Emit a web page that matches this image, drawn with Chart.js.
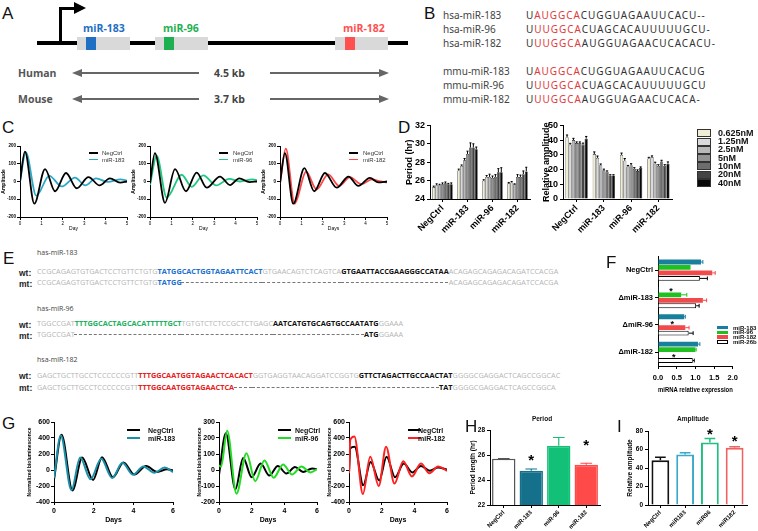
<!DOCTYPE html>
<html>
<head>
<meta charset="utf-8">
<title>miR-183/96/182 cluster</title>
<script src="https://cdn.jsdelivr.net/npm/chart.js@4.4.1/dist/chart.umd.min.js"></script>
<style>
  body { margin: 0; width: 758px; height: 531px; position: relative; overflow: hidden; background: #fff; font-family: 'Liberation Sans', Arial, sans-serif; color: #111; }
  canvas, .t, .r { position: absolute; }
  .t { white-space: nowrap; line-height: 1; transform: translateY(-50%); }
  .L { font-size: 17px; }
  .gene { font: bold 10.5px 'Open Sans', sans-serif; }
  .sp { font: bold 10.5px 'Open Sans', sans-serif; color: #555; }
  .bn { font: 10px 'Noto Sans', sans-serif; color: #444; }
  .bs { font: 10px 'Noto Sans', sans-serif; color: #333; letter-spacing: .95px; }
  .red { color: #e03a3a; }
  .eh { font: 7px 'Open Sans', sans-serif; color: #444; }
  .seq { font: 7.3px 'Open Sans', sans-serif; color: #b5b5b5; }
  .seq b { font-weight: 700; }
  .bl { color: #2070d0; } .gr { color: #1db060; } .rd { color: #e82020; } .bk { color: #111; }
  .del { color: transparent; text-decoration: line-through dashed #777 1px; }
  .wm { font: bold 8.5px 'Liberation Sans', Arial, sans-serif; color: #222; }
  .lg { font: 6px 'Liberation Sans', Arial, sans-serif; color: #333; }
  .lgG { font: bold 7px 'Liberation Sans', Arial, sans-serif; }
  .lgD { font: bold 9px 'Liberation Sans', Arial, sans-serif; }
  .lgF { font: bold 6px 'Liberation Sans', Arial, sans-serif; }
  .ttl { font: bold 6.5px 'Liberation Sans', Arial, sans-serif; transform: translate(-50%, -50%); }
</style>
</head>
<body>
<!-- A: gene locus -->
<div class="t L" style="left:2px;top:13px">A</div>
<div class="r" style="left:37px;top:41px;width:371px;height:4px;background:#000"></div>
<div class="r" style="left:59px;top:8px;width:3px;height:35px;background:#000"></div>
<div class="r" style="left:59px;top:7px;width:16px;height:3px;background:#000"></div>
<div class="r" style="left:74px;top:2px;width:0;height:0;border-left:12px solid #000;border-top:6.5px solid transparent;border-bottom:6.5px solid transparent"></div>
<div class="r" style="left:77px;top:37px;width:53px;height:13px;background:#d9d9d9"></div>
<div class="r" style="left:86px;top:37px;width:10px;height:13px;background:#1f6fc4"></div>
<div class="r" style="left:155px;top:37px;width:53px;height:13px;background:#d9d9d9"></div>
<div class="r" style="left:164px;top:37px;width:10px;height:13px;background:#1db050"></div>
<div class="r" style="left:335px;top:37px;width:53px;height:13px;background:#d9d9d9"></div>
<div class="r" style="left:345px;top:37px;width:10px;height:13px;background:#ff5050"></div>
<div class="t gene" style="left:83px;top:28px;color:#1f6fc4">miR-183</div>
<div class="t gene" style="left:163px;top:28px;color:#1db050">miR-96</div>
<div class="t gene" style="left:343px;top:28px;color:#ff5050">miR-182</div>
<div class="t sp" style="left:18px;top:73px">Human</div>
<div class="r" style="left:72px;top:68.5px;width:0;height:0;border-right:10px solid #666;border-top:4.5px solid transparent;border-bottom:4.5px solid transparent"></div>
<div class="r" style="left:80px;top:72px;width:119px;height:2px;background:#666"></div>
<div class="t sp" style="left:214px;top:73px;color:#444">4.5 kb</div>
<div class="r" style="left:270px;top:72px;width:110px;height:2px;background:#666"></div>
<div class="r" style="left:379px;top:68.5px;width:0;height:0;border-left:10px solid #666;border-top:4.5px solid transparent;border-bottom:4.5px solid transparent"></div>
<div class="t sp" style="left:18px;top:99px">Mouse</div>
<div class="r" style="left:72px;top:94.5px;width:0;height:0;border-right:10px solid #666;border-top:4.5px solid transparent;border-bottom:4.5px solid transparent"></div>
<div class="r" style="left:80px;top:98px;width:119px;height:2px;background:#666"></div>
<div class="t sp" style="left:214px;top:99px;color:#444">3.7 kb</div>
<div class="r" style="left:270px;top:98px;width:110px;height:2px;background:#666"></div>
<div class="r" style="left:379px;top:94.5px;width:0;height:0;border-left:10px solid #666;border-top:4.5px solid transparent;border-bottom:4.5px solid transparent"></div>

<!-- B: seed alignment -->
<div class="t L" style="left:424px;top:13px">B</div>
<div class="t bn" style="left:443px;top:15px">hsa-miR-183</div>
<div class="t bn" style="left:443px;top:29px">hsa-miR-96</div>
<div class="t bn" style="left:443px;top:43px">hsa-miR-182</div>
<div class="t bn" style="left:443px;top:71px">mmu-miR-183</div>
<div class="t bn" style="left:443px;top:85px">mmu-miR-96</div>
<div class="t bn" style="left:443px;top:99px">mmu-miR-182</div>
<div class="t bs" style="left:526px;top:15px">U<span class="red">AUGGCA</span>CUGGUAGAAUUCACU--</div>
<div class="t bs" style="left:526px;top:29px">U<span class="red">UUGGCA</span>CUAGCACAUUUUUGCU-</div>
<div class="t bs" style="left:526px;top:43px">U<span class="red">UUGGCA</span>AUGGUAGAACUCACACU-</div>
<div class="t bs" style="left:526px;top:71px">U<span class="red">AUGGCA</span>CUGGUAGAAUUCACUG</div>
<div class="t bs" style="left:526px;top:85px">U<span class="red">UUGGCA</span>CUAGCACAUUUUUGCU</div>
<div class="t bs" style="left:526px;top:99px">U<span class="red">UUGGCA</span>AUGGUAGAACUCACA-</div>

<!-- C -->
<div class="t L" style="left:2px;top:127px">C</div>
<canvas id="c1" width="130" height="94" style="left:0;top:140px"></canvas>
<canvas id="c2" width="130" height="94" style="left:130px;top:140px"></canvas>
<canvas id="c3" width="130" height="94" style="left:260px;top:140px"></canvas>
<div class="r" style="left:89px;top:152px;width:9px;height:1.5px;background:#000"></div>
<div class="t lg" style="left:102px;top:153px">NegCtrl</div>
<div class="r" style="left:89px;top:158.5px;width:9px;height:1.5px;background:#2aa8c8"></div>
<div class="t lg" style="left:102px;top:159.5px">miR-183</div>
<div class="r" style="left:219px;top:152px;width:9px;height:1.5px;background:#000"></div>
<div class="t lg" style="left:233px;top:153px">NegCtrl</div>
<div class="r" style="left:219px;top:158.5px;width:9px;height:1.5px;background:#20c880"></div>
<div class="t lg" style="left:233px;top:159.5px">miR-96</div>
<div class="r" style="left:349px;top:152px;width:9px;height:1.5px;background:#000"></div>
<div class="t lg" style="left:363px;top:153px">NegCtrl</div>
<div class="r" style="left:349px;top:158.5px;width:9px;height:1.5px;background:#ff4545"></div>
<div class="t lg" style="left:363px;top:159.5px">miR-182</div>

<!-- D -->
<div class="t L" style="left:398px;top:127px">D</div>
<canvas id="d1" width="135" height="120" style="left:398px;top:118px"></canvas>
<canvas id="d2" width="145" height="120" style="left:530px;top:118px"></canvas>
<div id="dLegend"></div>

<!-- E: deletion sequences -->
<div class="t L" style="left:3px;top:258px">E</div>
<div class="t eh" style="left:37px;top:252px">has-miR-183</div>
<div class="t wm" style="left:19px;top:273px">wt:</div>
<div class="t wm" style="left:19px;top:284px">mt:</div>
<div class="t seq" style="left:37px;top:271px">CCGCAGAGTGTGACTCCTGTTCTGTG<b class="bl">TATGGCACTGGTAGAATTCACT</b>GTGAACAGTCTCAGTCA<b class="bk">GTGAATTACCGAAGGGCCATAA</b>ACAGAGCAGAGACAGATCCACGA</div>
<div class="t seq" style="left:37px;top:282px">CCGCAGAGTGTGACTCCTGTTCTGTG<b class="bl">TATGG</b><span class="del"><b>CACTGGTAGAATTCACT</b>GTGAACAGTCTCAGTCA<b>GTGAATTACCGAAGGGCCATAA</b></span>ACAGAGCAGAGACAGATCCACGA</div>
<div class="t eh" style="left:37px;top:308px">has-miR-96</div>
<div class="t wm" style="left:19px;top:325px">wt:</div>
<div class="t wm" style="left:19px;top:336px">mt:</div>
<div class="t seq" style="left:37px;top:323px">TGGCCGAT<b class="gr">TTTGGCACTAGCACATTTTTGCT</b>TGTGTCTCTCCGCTCTGAGC<b class="bk">AATCATGTGCAGTGCCAATATG</b>GGAAA</div>
<div class="t seq" style="left:37px;top:334px">TGGCCGAT<span class="del"><b>TTTGGCACTAGCACATTTTTGCT</b>TGTGTCTCTCCGCTCTGAGC<b>AATCATGTGCAGTGCCAAT</b></span><b class="bk">ATG</b>GGAAA</div>
<div class="t eh" style="left:37px;top:359px">hsa-miR-182</div>
<div class="t wm" style="left:19px;top:376px">wt:</div>
<div class="t wm" style="left:19px;top:388px">mt:</div>
<div class="t seq" style="left:37px;top:375px">GAGCTGCTTGCCTCCCCCCGTT<b class="rd">TTTGGCAATGGTAGAACTCACACT</b>GGTGAGGTAACAGGATCCGGTG<b class="bk">GTTCTAGACTTGCCAACTAT</b>GGGGCGAGGACTCAGCCGGCAC</div>
<div class="t seq" style="left:37px;top:387px">GAGCTGCTTGCCTCCCCCCGTT<b class="rd">TTTGGCAATGGTAGAACTCA</b><span class="del"><b>CACT</b>GGTGAGGTAACAGGATCCGGTG<b>GTTCTAGACTTGCCAAC</b></span><b class="bk">TAT</b>GGGGCGAGGACTCAGCCGGCA</div>

<!-- F -->
<div class="t L" style="left:606px;top:262px">F</div>
<canvas id="f1" width="146" height="146" style="left:596px;top:250px"></canvas>
<div id="fLegend"></div>

<!-- G -->
<div class="t L" style="left:2px;top:423px">G</div>
<canvas id="g1" width="155" height="110" style="left:22px;top:416px"></canvas>
<canvas id="g2" width="133" height="110" style="left:188px;top:416px"></canvas>
<canvas id="g3" width="133" height="110" style="left:318px;top:416px"></canvas>
<div class="r" style="left:127px;top:429px;width:13px;height:2px;background:#000"></div>
<div class="t lgG" style="left:148px;top:430px">NegCtrl</div>
<div class="r" style="left:127px;top:437px;width:13px;height:2px;background:#1a90a8"></div>
<div class="t lgG" style="left:148px;top:438px">miR-183</div>
<div class="r" style="left:278px;top:429px;width:13px;height:2px;background:#000"></div>
<div class="t lgG" style="left:295px;top:430px">NegCtrl</div>
<div class="r" style="left:278px;top:437px;width:13px;height:2px;background:#22dd22"></div>
<div class="t lgG" style="left:295px;top:438px">miR-96</div>
<div class="r" style="left:408px;top:429px;width:13px;height:2px;background:#000"></div>
<div class="t lgG" style="left:418px;top:430px">NegCtrl</div>
<div class="r" style="left:408px;top:437px;width:13px;height:2px;background:#ff2020"></div>
<div class="t lgG" style="left:418px;top:438px">miR-182</div>

<!-- H / I -->
<div class="t L" style="left:465px;top:426px">H</div>
<div class="t ttl" style="left:542px;top:418px">Period</div>
<canvas id="h1" width="150" height="107" style="left:455px;top:424px"></canvas>
<div class="t L" style="left:617px;top:426px">I</div>
<div class="t ttl" style="left:693px;top:418px">Amplitude</div>
<canvas id="i1" width="132" height="106" style="left:618px;top:425px"></canvas>

<script>
// ---- C: cell rhythms (amplitude vs day), extrema ----
const c1NegX = [0, 0.23, 0.67, 1.17, 1.64, 2.15, 2.65, 3.2, 3.72, 4.2, 4.68, 5];
const c1NegY = [0, 168, -125, 70, -55, 48, -38, 25, -22, 18, -6, 0];
const c1MirX = [0, 0.27, 0.76, 1.37, 1.95, 2.57, 3.05, 3.55, 4.1, 4.7, 5];
const c1MirY = [0, 165, -80, 32, -28, 22, -22, 18, -2, 12, 5];
const c2NegX = [0, 0.23, 0.7, 1.17, 1.68, 2.18, 2.65, 3.27, 3.74, 4.17, 4.65, 5];
const c2NegY = [-10, 160, -120, 70, -55, 50, -35, 28, -20, 18, -3, 0];
const c2MirX = [0, 0.31, 0.78, 1.48, 1.95, 2.49, 3.1, 3.7, 4.2, 4.8, 5];
const c2MirY = [-20, 145, -90, 38, -30, 35, -22, 15, 0, 12, 8];
const c3NegX = [0, 0.23, 0.62, 1.14, 1.6, 2.1, 2.65, 3.2, 3.66, 4.2, 4.6, 5];
const c3NegY = [-10, 160, -125, 75, -55, 48, -35, 28, -25, 20, -5, 0];
const c3MirX = [0, 0.27, 0.68, 1.22, 1.71, 2.25, 2.77, 3.27, 3.8, 4.3, 4.7, 5];
const c3MirY = [-10, 185, -125, 55, -45, 40, -25, 25, -15, 12, 0, -5];

// ---- D: dose series ----
const dGroups = ['NegCtrl', 'miR-183', 'miR-96', 'miR-182'];
const dDoses = ['0.625nM', '1.25nM', '2.5nM', '5nM', '10nM', '20nM', '40nM'];
const dColors = ['#f1edd3', '#dadada', '#b8b8b8', '#939393', '#6d6d6d', '#444444', '#080808'];
const periodNeg = [25.3, 25.5, 25.5, 25.6, 25.7, 25.6, 25.6];
const period183 = [27.1, 27.6, 28.2, 28.9, 29.6, 29.6, 29.4];
const period96 = [26.0, 26.4, 26.4, 26.3, 26.4, 26.9, 26.9];
const period182 = [25.7, 25.8, 25.6, 26.4, 26.4, 26.7, 27.0];
const periodErrNeg = [0.1, 0.15, 0.1, 0.15, 0.15, 0.1, 0.15];
const periodErr183 = [0.15, 0.1, 0.2, 0.3, 0.5, 0.4, 0.25];
const periodErr96 = [0.1, 0.15, 0.3, 0.2, 0.25, 0.4, 0.5];
const periodErr182 = [0.1, 0.1, 0.05, 0.25, 0.2, 0.35, 0.45];
const ampNeg = [42, 37, 40, 38, 38, 37, 41];
const amp183 = [30.5, 28, 23, 19.5, 18.5, 16, 16];
const amp96 = [30, 26, 22, 23, 20.5, 19, 21];
const amp182 = [27.5, 28.5, 24, 22.5, 25.5, 22.5, 24];
const ampErrNeg = [1.5, 0.8, 1.2, 0.8, 0.8, 1, 1.5];
const ampErr183 = [1.5, 1.2, 0.8, 0.8, 0.6, 0.5, 0.5];
const ampErr96 = [1.2, 1.5, 0.8, 1, 0.8, 0.8, 0.8];
const ampErr182 = [0.8, 0.8, 1, 0.8, 0.8, 0.8, 1.2];

// ---- F: miRNA expression in deletion lines ----
const fLines = ['NegCtrl', 'ΔmiR-183', 'ΔmiR-96', 'ΔmiR-182'];
const fProbes = ['miR-183', 'miR-96', 'miR-182', 'miR-26b'];
const fMir183 = [1.15, 0.02, 0.70, 1.07];
const fMir96 = [0.87, 0.62, 0.02, 1.00];
const fMir182 = [1.45, 1.20, 0.73, 0.02];
const fMir26b = [1.12, 1.02, 0.82, 0.93];
const fErr183 = [0.05, 0, 0.03, 0.05];
const fErr96 = [0, 0.15, 0, 0.02];
const fErr182 = [0.08, 0.1, 0.1, 0];
const fErr26b = [0.2, 0.08, 0.12, 0.04];
const fStars = [[1, 0.35, 0], [2, 0.38, 1], [3, 0.42, 2]];

// ---- G: bioluminescence traces (extrema) ----
const g1NegX = [0, 0.38, 0.93, 1.42, 1.97, 2.42, 2.97, 3.5, 4.05, 4.64, 5.2, 5.7, 6];
const g1NegY = [-120, 440, -255, 155, -125, 160, -90, 95, -55, 50, -25, 10, -5];
const g1MirX = [0, 0.34, 0.88, 1.32, 1.84, 2.38, 2.93, 3.45, 3.98, 4.5, 5.05, 5.58, 6];
const g1MirY = [-100, 430, -250, 155, -115, 140, -100, 90, -60, 45, -35, 30, -25];
const g2NegX = [0, 0.42, 1.0, 1.48, 2.0, 2.55, 3.08, 3.6, 4.12, 4.65, 5.15, 5.7, 6];
const g2NegY = [-30, 230, -120, 75, -45, 40, -35, 25, -22, 18, -12, 10, 5];
const g2MirX = [0, 0.12, 0.5, 1.07, 1.68, 2.22, 2.78, 3.35, 3.92, 4.48, 5.05, 5.6, 6];
const g2MirY = [30, 20, 245, -148, 105, -70, 60, -48, 35, -28, 22, -15, 5];
const g3NegX = [0, 0.08, 0.35, 0.87, 1.32, 1.85, 2.3, 2.82, 3.35, 3.88, 4.4, 4.95, 5.45, 6];
const g3NegY = [-40, 270, 290, -190, 100, -130, 165, -90, 80, -30, 50, -10, 30, 5];
const g3MirX = [0, 0.08, 0.33, 0.85, 1.3, 1.82, 2.27, 2.78, 3.32, 3.85, 4.4, 4.92, 5.45, 6];
const g3MirY = [-40, 380, 420, -300, 165, -200, 290, -170, 110, -80, 80, -40, 45, -10];

// ---- H / I ----
const hiGroups = ['NegCtrl', 'miR-183', 'miR-96', 'miR-182'];
const iGroups = ['NegCtrl', 'miR183', 'miR96', 'miR182'];
const hPeriod = [25.7, 24.75, 26.75, 25.22];
const hErr = [0.02, 0.13, 0.65, 0.12];
const hStars = [[1, 25.85], [3, 27.05]];
const iAmp = [48.5, 54.5, 67.5, 62];
const iErr = [3, 2, 4.5, 1];
const iStars = [[2, 81], [3, 72.5]];

Chart.defaults.font.family = "'Liberation Sans', Arial, sans-serif";
Chart.defaults.color = '#000';
Chart.defaults.animation = false;
Chart.defaults.responsive = false;
Chart.defaults.events = [];
Chart.defaults.plugins.legend.display = false;
Chart.defaults.plugins.tooltip.enabled = false;

const errorBars = {
  id: 'errorBars',
  afterDatasetsDraw(chart) {
    const ctx = chart.ctx;
    const horiz = chart.options.indexAxis === 'y';
    const vScale = horiz ? chart.scales.x : chart.scales.y;
    chart.data.datasets.forEach((ds, i) => {
      if (!ds.errors) return;
      const meta = chart.getDatasetMeta(i);
      ctx.save();
      ctx.lineWidth = ds.errorWidth || 1;
      meta.data.forEach((el, j) => {
        const e = ds.errors[j];
        if (!e) return;
        const p = el.getProps(['x', 'y', 'width', 'height'], true);
        const from = vScale.getPixelForValue(ds.data[j]);
        const to = vScale.getPixelForValue(ds.data[j] + e);
        const half = (horiz ? p.height : p.width) * (ds.capRatio || 0.3);
        ctx.strokeStyle = Array.isArray(ds.errorColor) ? ds.errorColor[j] : (ds.errorColor || '#000');
        ctx.beginPath();
        if (horiz) {
          ctx.moveTo(from, p.y); ctx.lineTo(to, p.y);
          ctx.moveTo(to, p.y - half); ctx.lineTo(to, p.y + half);
        } else {
          ctx.moveTo(p.x, from); ctx.lineTo(p.x, to);
          ctx.moveTo(p.x - half, to); ctx.lineTo(p.x + half, to);
        }
        ctx.stroke();
      });
      ctx.restore();
    });
  }
};

const stars = {
  id: 'stars',
  afterDatasetsDraw(chart, args, opts) {
    const items = opts.items || [];
    const ctx = chart.ctx;
    const horiz = chart.options.indexAxis === 'y';
    const iScale = horiz ? chart.scales.y : chart.scales.x;
    const vScale = horiz ? chart.scales.x : chart.scales.y;
    ctx.save();
    ctx.fillStyle = '#000';
    ctx.font = 'bold ' + opts.size + "px 'Liberation Sans', Arial";
    ctx.textAlign = 'center';
    ctx.textBaseline = 'alphabetic';
    items.forEach(([idx, val, dsIdx]) => {
      const ip = dsIdx === undefined ? iScale.getPixelForValue(idx)
        : chart.getDatasetMeta(dsIdx).data[idx][horiz ? 'y' : 'x'];
      const vp = vScale.getPixelForValue(val);
      const x = horiz ? vp : ip, y = horiz ? ip : vp;
      ctx.fillText('*', x, y + opts.size * 0.57);
    });
    ctx.restore();
  }
};

function pts(xs, ys) {
  return xs.map((x, i) => ({ x: x, y: ys[i] }));
}

function axis(o) {
  const a = {
    type: o.type || 'linear',
    ticks: { font: { size: o.font, weight: o.weight || 'bold' }, color: '#000', padding: o.tickPad || 1 },
    grid: { display: true, drawOnChartArea: false, drawTicks: true, tickLength: 3, color: '#000', lineWidth: 1, offset: false },
    border: { display: true, color: '#000', width: 1 },
    title: { display: !!o.title, text: o.title, font: { size: o.titleFont || o.font, weight: o.weight || 'bold' }, color: '#000', padding: o.titlePad || 0 },
    afterFit: s => { if (o.horiz) s.height = o.size; else s.width = o.size; }
  };
  if (a.type === 'linear') {
    a.min = o.min; a.max = o.max;
    a.ticks.stepSize = o.step;
    if (o.fmt) a.ticks.callback = o.fmt;
  } else {
    a.ticks.autoSkip = false;
    a.ticks.minRotation = o.rot || 0;
    a.ticks.maxRotation = o.rot || 0;
  }
  return a;
}

function waveChart(id, series, xAx, yAx, padTop, lw) {
  new Chart(document.getElementById(id), {
    type: 'line',
    data: {
      datasets: series.map(s => ({
        data: pts(s[0], s[1]),
        borderColor: s[2],
        borderWidth: lw,
        pointRadius: 0,
        cubicInterpolationMode: 'monotone',
        fill: false
      }))
    },
    options: {
      layout: { padding: { top: padTop, right: 3, left: 0, bottom: 0 } },
      scales: { x: axis(xAx), y: axis(yAx) }
    }
  });
}

// C
const cX = t => ({ min: 0, max: 5, step: 1, font: 4.5, weight: 'normal', title: t, titleFont: 5, titlePad: { top: 0, bottom: 2 }, horiz: true, size: 17 });
const cY = { min: -200, max: 200, step: 100, font: 4.5, weight: 'bold', title: 'Amplitude', titleFont: 5, titlePad: { top: 1, bottom: 0 }, size: 20 };
waveChart('c1', [[c1NegX, c1NegY, '#000'], [c1MirX, c1MirY, '#2aa8c8']], cX('Day'), cY, 6, 1.8);
waveChart('c2', [[c2NegX, c2NegY, '#000'], [c2MirX, c2MirY, '#20c880']], cX('Day'), cY, 6, 1.8);
waveChart('c3', [[c3NegX, c3NegY, '#000'], [c3MirX, c3MirY, '#ff4545']], cX('Days'), cY, 6, 1.8);

// G
const gX = { min: 0, max: 6, step: 2, font: 7, title: 'Days', titleFont: 7, titlePad: { top: 0, bottom: 2 }, horiz: true, size: 24, tickPad: 2 };
const gY = (min, max, step, pad) => ({ min: min, max: max, step: step, font: 7, title: 'Normalized bioluminescence', titleFont: 5, titlePad: { top: pad, bottom: 0 }, size: 32 });
waveChart('g1', [[g1MirX, g1MirY, '#1a90a8'], [g1NegX, g1NegY, '#000']], gX, Object.assign(gY(-400, 600, 200, 5), { size: 32 }), 6, 2);
waveChart('g2', [[g2MirX, g2MirY, '#22dd22'], [g2NegX, g2NegY, '#000']], gX, Object.assign(gY(-200, 300, 100, 9), { size: 31 }), 6, 2);
waveChart('g3', [[g3MirX, g3MirY, '#ff2020'], [g3NegX, g3NegY, '#000']], gX, Object.assign(gY(-400, 600, 200, 9), { size: 31 }), 6, 2);

// D
function doseChart(id, groupVals, groupErrs, min, max, step, title, ySize, titlePad) {
  new Chart(document.getElementById(id), {
    type: 'bar',
    data: {
      labels: dGroups,
      datasets: dDoses.map((dose, k) => ({
        label: dose,
        data: groupVals.map(g => g[k]),
        errors: groupErrs.map(g => g[k]),
        backgroundColor: dColors[k],
        borderColor: '#222',
        borderWidth: 0.6,
        barPercentage: 1,
        categoryPercentage: 0.82,
        capRatio: 0.35
      }))
    },
    options: {
      layout: { padding: { top: 6, right: 3, left: 0, bottom: 0 } },
      scales: {
        x: axis({ type: 'category', font: 9, rot: 45, horiz: true, size: 39 }),
        y: axis({ min: min, max: max, step: step, font: 9, title: title, titleFont: 9, titlePad: { top: titlePad, bottom: 0 }, size: ySize, tickPad: 2 })
      }
    },
    plugins: [errorBars]
  });
}
doseChart('d1', [periodNeg, period183, period96, period182], [periodErrNeg, periodErr183, periodErr96, periodErr182], 24, 32, 2, 'Period (hr)', 32, 6);
doseChart('d2', [ampNeg, amp183, amp96, amp182], [ampErrNeg, ampErr183, ampErr96, ampErr182], 0, 50, 10, 'Relative amplitude', 33, 11);

const dLeg = document.getElementById('dLegend');
dDoses.forEach((dose, k) => {
  const y = 132.7 + k * 8.3;
  dLeg.insertAdjacentHTML('beforeend',
    '<div class="r" style="left:697px;top:' + (y - 3.5) + 'px;width:12px;height:6px;border:1px solid #333;background:' + dColors[k] + '"></div>' +
    '<div class="t lgD" style="left:718px;top:' + y + 'px">' + dose + '</div>');
});

// F
const fColors = ['#1a7f9c', '#20c020', '#f24a4a', '#ffffff'];
const fErrColors = ['#1a7f9c', '#20c020', '#f24a4a', '#000000'];
new Chart(document.getElementById('f1'), {
  type: 'bar',
  data: {
    labels: fLines,
    datasets: [fMir183, fMir96, fMir182, fMir26b].map((vals, k) => ({
      label: fProbes[k],
      data: vals,
      errors: [fErr183, fErr96, fErr182, fErr26b][k],
      errorColor: fErrColors[k],
      backgroundColor: fColors[k],
      borderColor: k === 3 ? '#000' : fColors[k],
      borderWidth: k === 3 ? 1 : 0,
      barPercentage: 0.88,
      categoryPercentage: 0.8,
      capRatio: 0.4
    }))
  },
  options: {
    indexAxis: 'y',
    layout: { padding: { top: 5, right: 3, left: 0, bottom: 0 } },
    scales: {
      x: axis({ min: 0, max: 2, step: 0.5, font: 7.5, fmt: v => v.toFixed(1), title: 'miRNA relative expression', titleFont: 7.5, titlePad: { top: 0, bottom: 1.5 }, horiz: true, size: 30, tickPad: 4 }),
      y: axis({ type: 'category', font: 7.5, size: 62, tickPad: 2 })
    },
    plugins: { stars: { items: fStars, size: 9 } }
  },
  plugins: [errorBars, stars]
});

const fLeg = document.getElementById('fLegend');
fProbes.forEach((p, k) => {
  const y = 327.5 + k * 4.8;
  fLeg.insertAdjacentHTML('beforeend',
    '<div class="r" style="left:717px;top:' + (y - 1.8) + 'px;width:11px;height:3.6px;box-sizing:border-box;border:' + (k === 3 ? '0.8px solid #000' : '0') + ';background:' + fColors[k] + '"></div>' +
    '<div class="t lgF" style="left:733px;top:' + y + 'px">' + p + '</div>');
});

// H
new Chart(document.getElementById('h1'), {
  type: 'bar',
  data: {
    labels: hiGroups,
    datasets: [{
      data: hPeriod,
      errors: hErr,
      errorColor: ['#555', '#15708c', '#13c078', '#ff4a4a'],
      errorWidth: 1.2,
      capRatio: 0.25,
      backgroundColor: ['#ffffff', '#15708c', '#13c078', '#ff4a4a'],
      borderColor: ['#555555', '#15708c', '#13c078', '#ff4a4a'],
      borderWidth: 1.5,
      barPercentage: 0.85,
      categoryPercentage: 1
    }]
  },
  options: {
    layout: { padding: { top: 6, right: 5, left: 0, bottom: 0 } },
    scales: {
      x: axis({ type: 'category', font: 6, rot: 45, horiz: true, size: 26 }),
      y: axis({ min: 22, max: 28, step: 2, font: 6.5, title: 'Period length (hr)', titleFont: 6.5, titlePad: { top: 14, bottom: 0 }, size: 35, tickPad: 2 })
    },
    plugins: { stars: { items: hStars, size: 15 } }
  },
  plugins: [errorBars, stars]
});

// I
const iColors = ['#111111', '#3aaac8', '#20c080', '#f06262'];
new Chart(document.getElementById('i1'), {
  type: 'bar',
  data: {
    labels: iGroups,
    datasets: [{
      data: iAmp,
      errors: iErr,
      errorColor: iColors,
      errorWidth: 1.5,
      capRatio: 0.3,
      backgroundColor: '#ffffff',
      borderColor: iColors,
      borderWidth: 2,
      barPercentage: 0.72,
      categoryPercentage: 1
    }]
  },
  options: {
    layout: { padding: { top: 6, right: 3, left: 0, bottom: 0 } },
    scales: {
      x: axis({ type: 'category', font: 6, rot: 45, horiz: true, size: 26 }),
      y: axis({ min: 0, max: 80, step: 20, font: 6.5, title: 'Relative amplitude', titleFont: 6.5, titlePad: { top: 8, bottom: 0 }, size: 30, tickPad: 2 })
    },
    plugins: { stars: { items: iStars, size: 15 } }
  },
  plugins: [errorBars, stars]
});
</script>
</body>
</html>
